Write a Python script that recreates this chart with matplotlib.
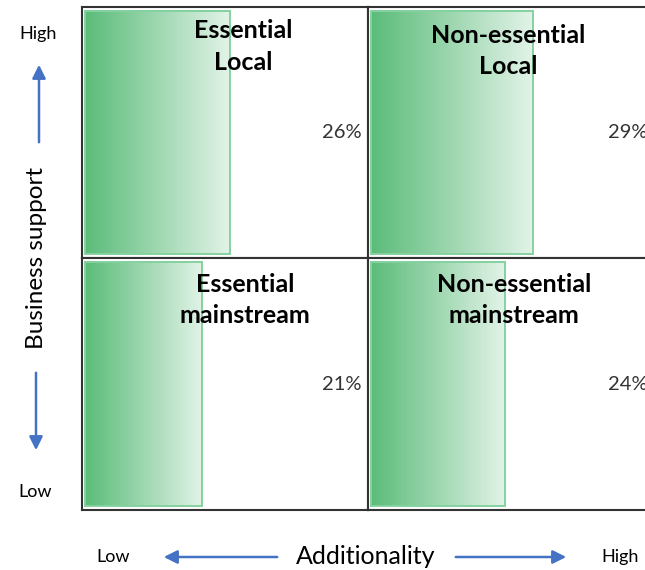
import numpy as np
import matplotlib
matplotlib.use("Agg")
import matplotlib.pyplot as plt
from matplotlib.colors import LinearSegmentedColormap

# Quadrant data (row-major: top-left, top-right, bottom-left, bottom-right)
quadrant_titles = ["Essential\nLocal", "Non-essential\nLocal",
                   "Essential\nmainstream", "Non-essential\nmainstream"]
shares = [26, 29, 21, 24]  # percent of respondents

x_axis_title = "Additionality"
y_axis_title = "Business support"
low_label = "Low"
high_label = "High"

plt.rcParams["font.family"] = ["Lato", "DejaVu Sans"]

W, H = 645, 570
fig = plt.figure(figsize=(W / 100, H / 100), dpi=100)

green_map = LinearSegmentedColormap.from_list(
    "bar_fade", ["#5bbc7a", "#9ed7b0", "#e2f3e8"])
grad = np.linspace(0, 1, 256).reshape(1, -1)

# quadrant boxes in pixels: (left, top, right, bottom)
boxes = [(82, 7, 368, 258), (368, 7, 654, 258),
         (82, 258, 368, 510), (368, 258, 654, 510)]
title_pos = [(0.563, 0.842), (0.49, 0.824), (0.57, 0.834), (0.51, 0.834)]

for i, (l, t, r, b) in enumerate(boxes):
    ax = fig.add_axes([l / W, 1 - b / H, (r - l) / W, (b - t) / H])
    v = shares[i]
    ax.imshow(grad, cmap=green_map, aspect="auto",
              extent=(0, v, 0, 1), zorder=1)
    ax.bar(v / 2, 1, width=v, bottom=0, facecolor="none",
           edgecolor="#86d1a0", linewidth=1.4, zorder=2)
    ax.set_xlim(-0.54, 50.75)
    ax.set_ylim(-0.016, 1.016)
    ax.text(0.978, 0.5, f"{v}%", transform=ax.transAxes, ha="right",
            va="center", fontsize=14.5, color="#333333", zorder=3)
    tx, ty = title_pos[i]
    ax.text(tx, ty, quadrant_titles[i], transform=ax.transAxes,
            ha="center", va="center", fontsize=18, fontweight="bold",
            linespacing=1.45, color="black", zorder=3)
    ax.set_xticks([])
    ax.set_yticks([])
    for s in ax.spines.values():
        s.set_color("#333333")
        s.set_linewidth(1.5)

# Overlay axes in pixel units for the axis annotations
ov = fig.add_axes([0, 0, 1, 1], zorder=-1)
ov.set_xlim(0, W)
ov.set_ylim(H, 0)
ov.axis("off")

arrow_kw = dict(arrowstyle="-|>,head_length=0.8,head_width=0.4",
                color="#4472c4", lw=1.8)
ov.annotate("", xy=(39, 62), xytext=(39, 145), arrowprops=arrow_kw)
ov.annotate("", xy=(36, 453), xytext=(36, 370), arrowprops=arrow_kw)
ov.annotate("", xy=(161, 557), xytext=(280, 557), arrowprops=arrow_kw)
ov.annotate("", xy=(569, 557), xytext=(453, 557), arrowprops=arrow_kw)

ov.text(38, 34, high_label, ha="center", va="center", fontsize=13)
ov.text(35, 492, low_label, ha="center", va="center", fontsize=13)
ov.text(37, 258, y_axis_title, rotation=90, ha="center", va="center",
        fontsize=17.5)
ov.text(113, 557, low_label, ha="center", va="center", fontsize=13)
ov.text(620, 557, high_label, ha="center", va="center", fontsize=13)
ov.text(366, 556, x_axis_title, ha="center", va="center", fontsize=18)

fig.savefig("out.png", dpi=100)
